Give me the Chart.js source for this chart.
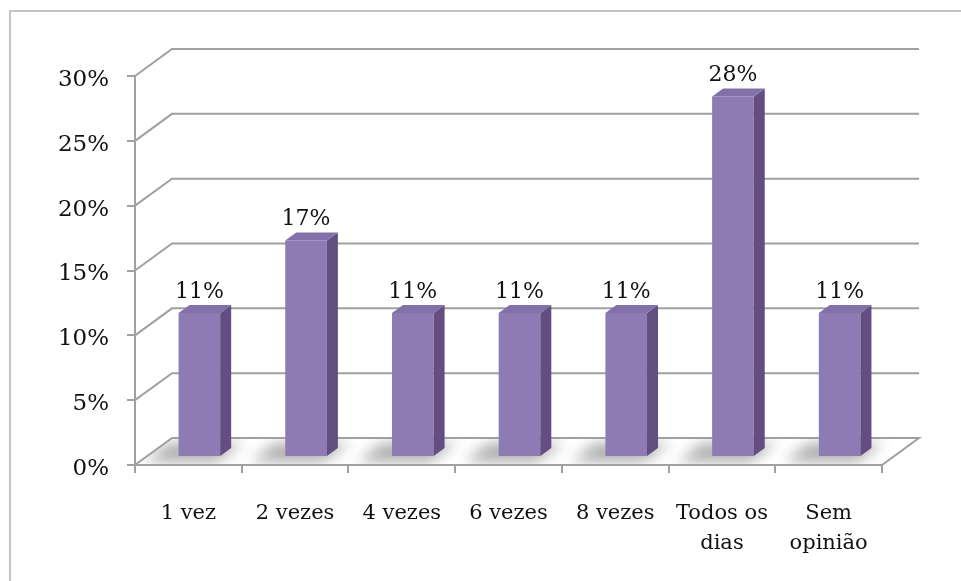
<!DOCTYPE html>
<html>
<head>
<meta charset="utf-8">
<script src="https://cdn.jsdelivr.net/npm/chart.js@4.4.0/dist/chart.umd.min.js"></script>
<style>
    html, body { margin: 0; padding: 0; background: #fff; }
    #wrap { width: 961px; height: 581px; }
</style>
</head>
<body>
<div id="wrap"><canvas id="chart" width="961" height="581"></canvas></div>
<script>
// --- DATA ---
const categories = ['1 vez', '2 vezes', '4 vezes', '6 vezes', '8 vezes', ['Todos os', 'dias'], ['Sem', 'opinião']];
const values = [11.1, 16.7, 11.1, 11.1, 11.1, 27.8, 11.1];
const yTicks = [0, 5, 10, 15, 20, 25, 30];

// --- LOOK ---
const FONT = "'DejaVu Serif', 'Liberation Serif', serif";
const GRID = '#A0A0A0';
const FRONT = '#8E7BB3';
const SIDE = '#624E80';
const TOP = '#8270A9';
// floor depth and bar offsets (px)
const DX = 37, DY = -27;
const FX = 11, FY = -8;
const SX = 11, SY = -8;

const threeD = {
    id: 'threeD',
    beforeDraw(chart) {
        const ctx = chart.ctx;
        ctx.save();
        ctx.strokeStyle = '#C4C4C4';
        ctx.lineWidth = 2;
        ctx.beginPath();
        ctx.moveTo(10, 581);
        ctx.lineTo(10, 11);
        ctx.lineTo(961, 11);
        ctx.stroke();
        ctx.restore();
    },
    beforeDatasetsDraw(chart) {
        const { ctx, chartArea: a, scales: { y } } = chart;
        ctx.save();
        // back wall + side wall grid lines
        ctx.strokeStyle = GRID;
        ctx.lineWidth = 2;
        yTicks.forEach(v => {
            if (v === 0) return;
            const py = y.getPixelForValue(v);
            ctx.beginPath();
            ctx.moveTo(a.left, py);
            ctx.lineTo(a.left + DX, py + DY);
            ctx.lineTo(a.right + DX, py + DY);
            ctx.stroke();
        });

        // floor
        const fy = y.getPixelForValue(0);
        const floor = () => {
            ctx.beginPath();
            ctx.moveTo(a.left, fy);
            ctx.lineTo(a.right, fy);
            ctx.lineTo(a.right + DX, fy + DY);
            ctx.lineTo(a.left + DX, fy + DY);
            ctx.closePath();
        };
        floor();
        ctx.fillStyle = '#fff';
        ctx.fill();

        // soft shadows under bars, thrown to the left
        ctx.save();
        floor();
        ctx.clip();
        ctx.filter = 'blur(7px)';
        ctx.fillStyle = 'rgba(0,0,0,0.32)';
        chart.getDatasetMeta(0).data.forEach(bar => {
            const { x, width } = bar.getProps(['x', 'width'], true);
            const l = x - width / 2 + FX, r = x + width / 2 + FX;
            ctx.beginPath();
            ctx.moveTo(l - 34, fy - 3);
            ctx.lineTo(r - 4, fy - 3);
            ctx.lineTo(r + SX + 12, fy + FY + SY - 6);
            ctx.lineTo(l - 10, fy + FY + SY - 6);
            ctx.closePath();
            ctx.fill();
        });
        ctx.restore();

        floor();
        ctx.strokeStyle = GRID;
        ctx.lineWidth = 2;
        ctx.stroke();
        ctx.restore();

        // bars are drawn on a plane in front of the back wall
        ctx.save();
        ctx.translate(FX, FY);
    },
    afterDatasetsDraw(chart) {
        const ctx = chart.ctx;
        ctx.restore();
        ctx.save();
        chart.getDatasetMeta(0).data.forEach((bar, i) => {
            const { x, y, base, width } = bar.getProps(['x', 'y', 'base', 'width'], true);
            const l = x - width / 2 + FX, r = x + width / 2 + FX;
            const t = y + FY, b = base + FY;

            // side face
            ctx.fillStyle = SIDE;
            ctx.beginPath();
            ctx.moveTo(r, t);
            ctx.lineTo(r + SX, t + SY);
            ctx.lineTo(r + SX, b + SY);
            ctx.lineTo(r, b);
            ctx.closePath();
            ctx.fill();

            // top face
            ctx.fillStyle = TOP;
            ctx.beginPath();
            ctx.moveTo(l, t);
            ctx.lineTo(r, t);
            ctx.lineTo(r + SX, t + SY);
            ctx.lineTo(l + SX, t + SY);
            ctx.closePath();
            ctx.fill();

            // value label
            ctx.fillStyle = '#111';
            ctx.font = `22px ${FONT}`;
            ctx.textAlign = 'center';
            ctx.textBaseline = 'bottom';
            ctx.fillText(`${Math.round(values[i])}%`, (l + r) / 2, t + SY - 2);
        });
        ctx.restore();
    }
};

new Chart(document.getElementById('chart'), {
    type: 'bar',
    data: {
        labels: categories,
        datasets: [{
            data: values,
            backgroundColor: FRONT,
            borderWidth: 0,
            categoryPercentage: 1,
            barPercentage: 0.39,
            clip: false,
        }]
    },
    options: {
        responsive: false,
        animation: false,
        events: [],
        layout: { padding: { top: 76, right: 79, left: 0, bottom: 0 } },
        plugins: { legend: { display: false }, tooltip: { enabled: false } },
        scales: {
            x: {
                afterFit: (scale) => { scale.height = 116; },
                grid: { drawOnChartArea: false, tickLength: 8, color: GRID, lineWidth: 2, offset: true },
                border: { color: GRID, width: 2 },
                ticks: {
                    color: '#111',
                    font: { family: FONT, size: 21, lineHeight: 1.45 },
                    padding: 25,
                    maxRotation: 0,
                    autoSkip: false,
                }
            },
            y: {
                min: yTicks[0],
                max: yTicks[yTicks.length - 1],
                afterFit: (scale) => { scale.width = 135; },
                grid: { drawOnChartArea: false, tickLength: 8, color: GRID, lineWidth: 2 },
                border: { color: GRID, width: 2 },
                ticks: {
                    stepSize: yTicks[1] - yTicks[0],
                    color: '#111',
                    font: { family: FONT, size: 23 },
                    padding: 18,
                    labelOffset: 4,
                    callback: (v) => `${v}%`,
                }
            }
        }
    },
    plugins: [threeD]
});
</script>
</body>
</html>
